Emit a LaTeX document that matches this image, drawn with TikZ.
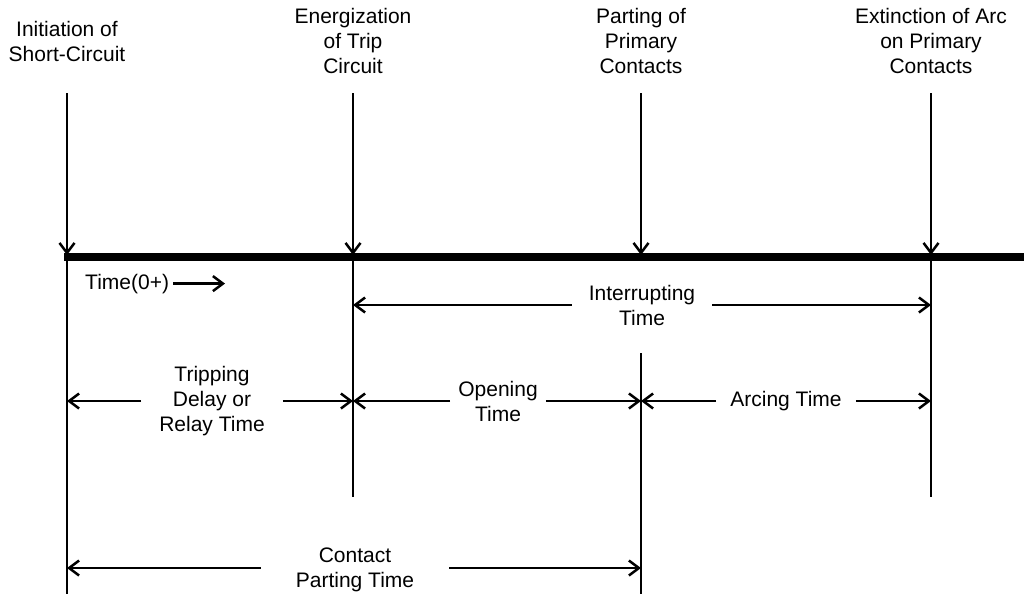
\documentclass[tikz,border=0pt]{standalone}
\usepackage{fontspec}
\setmainfont{Liberation Sans}
\usepackage{tikz}
\usetikzlibrary{arrows.meta,calc}

\begin{document}
\begin{tikzpicture}[x=1pt, y=-1pt, >={Straight Barb[length=10pt,width=15pt]},
  lbl/.style={align=center, inner sep=0pt, font=\fontsize{21}{25}\selectfont},
  evline/.style={line width=2.5pt},
  dim/.style={line width=2.5pt, ->}]
  \useasboundingbox (0,0) rectangle (1024,594);
  \coordinate (init)  at (67,93);
  \coordinate (energ) at (353,93);
  \coordinate (part)  at (641,93);
  \coordinate (extn)  at (931,93);
  \coordinate (axL) at (64,257);
  \coordinate (axR) at (1024,257);
  \coordinate (initEnd)  at (67,594);
  \coordinate (energEnd) at (353,497);
  \coordinate (partTop)  at (641,353);
  \coordinate (partEnd)  at (641,594);
  \coordinate (extnEnd)  at (931,497);
  \coordinate (t0End) at (225,282);

  \node[lbl, anchor=north] (initLbl)  at (67,21) {Initiation of\\Short-Circuit};
  \node[lbl, anchor=north] (energLbl) at (353,8) {Energization\\of Trip\\Circuit};
  \node[lbl, anchor=north] (partLbl)  at (641,8) {Parting of\\Primary\\Contacts};
  \node[lbl, anchor=north] (extnLbl)  at (931,8) {Extinction of Arc\\on Primary\\Contacts};

  \draw[line width=8pt] (axL) -- (axR);
  \foreach \ev in {init,energ,part,extn}
    \draw[dim, shorten >=2pt] (\ev) -- (\ev |- axL);
  \draw[evline] (init |- axL) -- (initEnd);
  \draw[evline] (energ |- axL) -- (energEnd);
  \draw[evline] (partTop) -- (partEnd);
  \draw[evline] (extn |- axL) -- (extnEnd);

  \node[lbl, anchor=base west, inner xsep=4pt] (t0) at (81,289) {Time(0+)};
  \draw[dim] (t0.east) -- (t0End |- t0.east);

  \node[lbl, inner xsep=17pt] (intr) at (642,305) {Interrupting\\Time};
  \draw[dim] (intr.west) -- (intr.west -| energ);
  \draw[dim] (intr.east) -- (intr.east -| extn);

  \node[lbl, inner xsep=18pt] (trip) at (212,401) {Tripping\\Delay or\\Relay Time};
  \draw[dim] (trip.west) -- (trip.west -| init);
  \draw[dim] (trip.east) -- (trip.east -| energ);

  \node[lbl, inner xsep=8pt] (open) at (498,401) {Opening\\Time};
  \draw[dim] (open.west) -- (open.west -| energ);
  \draw[dim] (open.east) -- (open.east -| part);

  \node[lbl, inner xsep=14pt] (arc) at (786,401) {Arcing Time};
  \draw[dim] (arc.west) -- (arc.west -| part);
  \draw[dim] (arc.east) -- (arc.east -| extn);

  \node[lbl, inner xsep=35pt, text depth=0pt] (cpt) at (355,568) {Contact\\Parting Time};
  \draw[dim] (cpt.west) -- (cpt.west -| init);
  \draw[dim] (cpt.east) -- (cpt.east -| part);
\end{tikzpicture}
\end{document}
